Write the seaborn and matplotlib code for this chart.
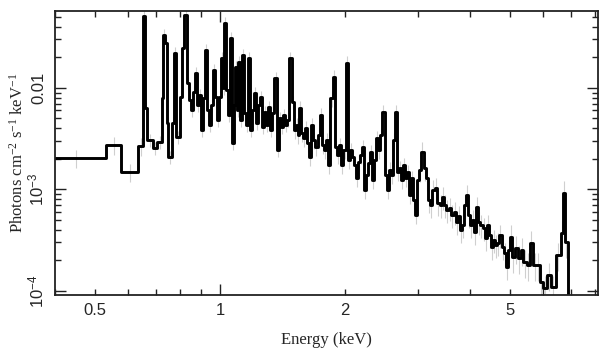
import numpy as np
import pandas as pd
import seaborn as sns
import matplotlib
import matplotlib.pyplot as plt
from matplotlib.ticker import FixedLocator, FuncFormatter

matplotlib.use("Agg")

# Spectrum bins: lower edge of each bin (keV) and flux (photons cm^-2 s^-1 keV^-1)
e_lo = [0.380, 0.531, 0.577, 0.634, 0.652, 0.660, 0.667, 0.689, 0.705, 0.725,
        0.729, 0.737, 0.745, 0.749, 0.766, 0.775, 0.783, 0.801, 0.810, 0.819,
        0.833, 0.842, 0.851, 0.861, 0.870, 0.880, 0.890, 0.900, 0.910, 0.920,
        0.930, 0.941, 0.951, 0.962, 0.973, 0.984, 0.995, 1.006, 1.017, 1.023,
        1.034, 1.045, 1.057, 1.069, 1.081, 1.087, 1.099, 1.105, 1.117, 1.130,
        1.142, 1.155, 1.168, 1.181, 1.194, 1.208, 1.221, 1.235, 1.248, 1.262,
        1.276, 1.291, 1.305, 1.320, 1.334, 1.349, 1.372, 1.387, 1.403, 1.418,
        1.434, 1.450, 1.466, 1.491, 1.508, 1.524, 1.541, 1.550, 1.567, 1.585,
        1.603, 1.621, 1.639, 1.657, 1.675, 1.694, 1.722, 1.742, 1.761, 1.781,
        1.801, 1.821, 1.841, 1.872, 1.893, 1.914, 1.935, 1.957, 1.979, 2.012,
        2.034, 2.057, 2.080, 2.103, 2.127, 2.150, 2.174, 2.199, 2.223, 2.248,
        2.273, 2.298, 2.324, 2.350, 2.376, 2.403, 2.429, 2.457, 2.498, 2.526,
        2.554, 2.582, 2.611, 2.640, 2.670, 2.700, 2.730, 2.760, 2.791, 2.822,
        2.854, 2.885, 2.918, 2.950, 2.983, 3.016, 3.050, 3.101, 3.136, 3.171,
        3.206, 3.242, 3.296, 3.333, 3.389, 3.427, 3.465, 3.503, 3.562, 3.602,
        3.663, 3.703, 3.745, 3.786, 3.829, 3.871, 3.915, 3.958, 4.002, 4.047,
        4.092, 4.138, 4.184, 4.231, 4.301, 4.349, 4.398, 4.447, 4.497, 4.547,
        4.597, 4.649, 4.701, 4.780, 4.833, 4.887, 4.941, 4.996, 5.052, 5.137,
        5.223, 5.311, 5.370, 5.491, 5.583, 5.676, 5.804, 5.901, 6.000, 6.135,
        6.273, 6.449, 6.631, 6.705, 6.780, 6.894]
e_last = 7.17

flux = [2.04e-3, 2.74e-3, 1.49e-3, 2.68e-3, 5.12e-2, 6.35e-3, 3.07e-3, 2.56e-3, 2.94e-3, 7.97e-3,
        3.33e-2, 2.78e-2, 4.52e-3, 2.09e-3, 4.52e-3, 2.21e-2, 3.29e-3, 8.15e-3, 2.48e-2, 5.24e-2,
        1.12e-2, 7.62e-3, 6.07e-3, 9.13e-3, 1.41e-2, 6.80e-3, 8.53e-3, 3.86e-3, 7.97e-3, 2.37e-2,
        6.07e-3, 4.32e-3, 6.80e-3, 1.50e-2, 8.15e-3, 4.84e-3, 8.15e-3, 1.97e-2, 1.00e-2, 4.37e-2,
        9.56e-3, 5.42e-3, 3.11e-2, 2.87e-3, 6.80e-3, 1.61e-2, 6.07e-3, 1.80e-2, 4.84e-3, 2.11e-2,
        5.67e-3, 4.32e-3, 1.97e-2, 3.86e-3, 6.07e-3, 8.93e-3, 4.52e-3, 6.80e-3, 8.15e-3, 4.13e-3,
        5.80e-3, 4.32e-3, 6.50e-3, 3.86e-3, 5.67e-3, 1.25e-2, 2.45e-3, 5.06e-3, 4.13e-3, 5.42e-3,
        4.32e-3, 4.84e-3, 1.97e-2, 7.28e-3, 3.86e-3, 4.32e-3, 3.44e-3, 6.35e-3, 3.60e-3, 3.22e-3,
        4.04e-3, 2.87e-3, 2.09e-3, 4.32e-3, 3.07e-3, 2.62e-3, 3.44e-3, 5.42e-3, 2.74e-3, 2.45e-3,
        3.07e-3, 1.74e-3, 7.97e-3, 1.28e-2, 2.62e-3, 2.19e-3, 2.74e-3, 1.74e-3, 2.45e-3, 1.76e-2,
        1.95e-3, 2.45e-3, 2.09e-3, 1.74e-3, 1.30e-3, 1.87e-3, 2.19e-3, 2.62e-3, 9.89e-4, 1.39e-3,
        1.82e-3, 2.34e-3, 1.24e-3, 1.95e-3, 3.22e-3, 2.45e-3, 3.44e-3, 5.80e-3, 1.39e-3, 9.89e-4,
        1.56e-3, 1.39e-3, 3.07e-3, 5.80e-3, 1.49e-3, 1.63e-3, 1.24e-3, 1.74e-3, 1.30e-3, 1.49e-3,
        8.84e-4, 1.30e-3, 7.88e-4, 5.61e-4, 1.24e-3, 1.56e-3, 2.34e-3, 1.63e-3, 1.30e-3, 7.88e-4,
        7.04e-4, 9.89e-4, 1.03e-3, 7.36e-4, 7.04e-4, 8.44e-4, 7.04e-4, 6.28e-4, 6.57e-4, 5.61e-4,
        6.00e-4, 4.78e-4, 5.48e-4, 3.99e-4, 4.47e-4, 7.04e-4, 8.84e-4, 5.61e-4, 4.47e-4, 5.01e-4,
        3.81e-4, 6.72e-4, 4.78e-4, 4.47e-4, 4.18e-4, 3.33e-4, 4.47e-4, 3.56e-4, 2.71e-4, 3.18e-4,
        2.84e-4, 2.97e-4, 3.56e-4, 2.71e-4, 2.37e-4, 1.72e-4, 2.53e-4, 3.40e-4, 2.16e-4, 2.65e-4,
        2.11e-4, 2.53e-4, 1.93e-4, 1.80e-4, 2.97e-4, 1.80e-4, 1.80e-4, 1.23e-4, 1.07e-4, 1.44e-4,
        1.09e-4, 2.26e-4, 3.73e-4, 9.24e-4, 3.04e-4, 3.00e-5]

# relative 1-sigma error per energy band (band lower edges in keV)
err_band_lo = [0.38, 0.65, 1.5, 3.0, 5.0]
err_band_frac = [0.20, 0.15, 0.18, 0.25, 0.30]

edges = np.array(e_lo + [e_last])
vals = np.array(flux)
steps = pd.DataFrame({"energy": edges, "flux": np.append(vals, vals[-1])})

centers = np.sqrt(edges[:-1] * edges[1:])
frac = np.array(err_band_frac)[np.searchsorted(err_band_lo, centers, side="right") - 1]
yerr = vals * frac

sns.set_style("ticks")
plt.rcParams["font.family"] = ["Liberation Sans", "DejaVu Sans"]

fig = plt.figure(figsize=(6.08, 3.57), dpi=100)
ax = fig.add_axes([0.0905, 0.174, 0.893, 0.7955])

ax.errorbar(centers, vals, yerr=yerr, fmt="none", ecolor="#cfcfcf",
            elinewidth=0.8, capsize=0, zorder=1)
sns.lineplot(data=steps, x="energy", y="flux", drawstyle="steps-post",
             color="black", linewidth=2.1, estimator=None, sort=False,
             ax=ax, zorder=2)

ax.set_xscale("log")
ax.set_yscale("log")
ax.set_xlim(0.40, 8.15)
ax.set_ylim(9.13e-5, 0.0574)

# x ticks: long tick at the decade, short ones elsewhere, labels 0.5 1 2 5
ax.xaxis.set_major_locator(FixedLocator([1.0]))
ax.xaxis.set_minor_locator(FixedLocator([0.4, 0.5, 0.6, 0.7, 0.8, 0.9,
                                         2, 3, 4, 5, 6, 7, 8]))
ax.xaxis.set_major_formatter(FuncFormatter(lambda v, p: "1"))
ax.xaxis.set_minor_formatter(FuncFormatter(
    lambda v, p: "%g" % v if round(v, 2) in (0.5, 2.0, 5.0) else ""))

ax.yaxis.set_major_locator(FixedLocator([1e-4, 1e-3, 1e-2]))
ax.yaxis.set_minor_locator(FixedLocator(
    [m * 10.0 ** k for k in (-4, -3, -2) for m in range(2, 10)]))
ax.yaxis.set_major_formatter(FuncFormatter(
    lambda v, p: {1e-4: r"$\mathregular{10^{-4}}$",
                  1e-3: r"$\mathregular{10^{-3}}$"}.get(v, "0.01")))
ax.yaxis.set_minor_formatter(FuncFormatter(lambda v, p: ""))

ax.tick_params(which="both", direction="in", top=True, right=True,
               color="#222222", width=1.0, labelsize=12, pad=6)
ax.tick_params(which="major", length=8)
ax.tick_params(which="minor", length=4)
for lab in ax.get_yticklabels():
    lab.set_rotation(90)
    lab.set_va("center")

for sp in ax.spines.values():
    sp.set_color("#222222")
    sp.set_linewidth(1.3)

serif = ["Liberation Serif", "DejaVu Serif"]
ax.set_xlabel("Energy (keV)", fontsize=12, family=serif, labelpad=10)
ax.set_ylabel(r"Photons cm$\mathregular{^{-2}}$ s$\mathregular{^{-1}}$ keV$\mathregular{^{-1}}$",
              fontsize=12, family=serif)
ax.yaxis.set_label_coords(-0.052, 0.5)

plt.savefig("out.png", dpi=100)
